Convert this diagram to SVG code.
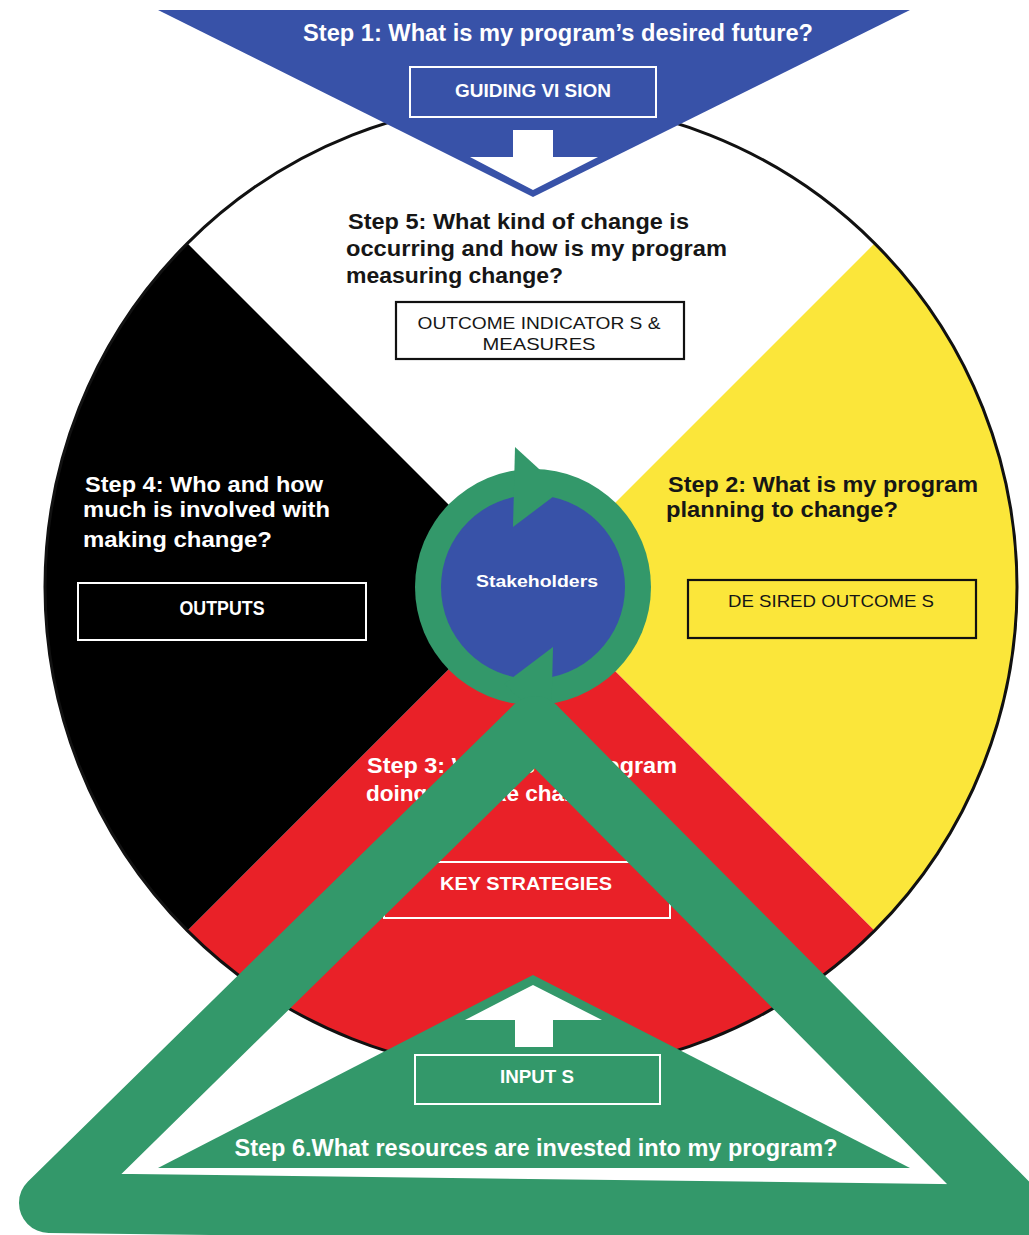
<svg xmlns="http://www.w3.org/2000/svg" width="1029" height="1235" viewBox="0 0 1029 1235">
<style>
.t{font-family:"Liberation Sans",Arial,sans-serif;font-weight:bold;}
.n{font-family:"Liberation Sans Narrow","Liberation Sans",Arial,sans-serif;font-weight:bold;}
.w{fill:#ffffff;}
.k{fill:#161616;}
.lab{font-family:"Liberation Sans",Arial,sans-serif;font-size:17px;fill:#161616;}
.boxw{fill:none;stroke:#ffffff;stroke-width:2;}
.boxk{fill:none;stroke:#111111;stroke-width:2.2;}
</style>
<rect width="1029" height="1235" fill="#ffffff"/>
<g id="wheel">
<path d="M531,587 L187.35,243.35 A486,486 0 0 1 874.65,243.35 Z" fill="#ffffff"/>
<path d="M531,587 L874.65,243.35 A486,486 0 0 1 874.65,930.65 Z" fill="#FBE63A"/>
<path d="M531,587 L874.65,930.65 A486,486 0 0 1 187.35,930.65 Z" fill="#E92128"/>
<path d="M531,587 L187.35,930.65 A486,486 0 0 1 187.35,243.35 Z" fill="#000000"/>
<circle cx="531" cy="587" r="486" fill="none" stroke="#111" stroke-width="3"/>
</g>
<g id="step1">
<polygon points="158,10 910,10 533,197" fill="#3852A8"/>
<polygon points="513,130 553,130 553,157 598,157 533,190 470,157 513,157" fill="#ffffff"/>
<text class="n w" x="558" y="41" font-size="23" text-anchor="middle" textLength="510" lengthAdjust="spacingAndGlyphs">Step 1: What is my program’s desired future?</text>
<rect class="boxw" x="410" y="67" width="246" height="50"/>
<text class="n w" x="533" y="97" font-size="19" text-anchor="middle" textLength="156" lengthAdjust="spacingAndGlyphs">GUIDING VI SION</text>
</g>
<g id="step5">
<text class="t k" font-size="21.5"><tspan x="348" y="229" textLength="341" lengthAdjust="spacingAndGlyphs">Step 5: What kind of change is</tspan><tspan x="346" y="256" textLength="381" lengthAdjust="spacingAndGlyphs">occurring and how is my program</tspan><tspan x="346" y="283" textLength="217" lengthAdjust="spacingAndGlyphs">measuring change?</tspan></text>
<rect class="boxk" x="396" y="302" width="288" height="57"/>
<text class="lab" x="539" y="329" text-anchor="middle" textLength="243" lengthAdjust="spacingAndGlyphs">OUTCOME INDICATOR S &amp;</text>
<text class="lab" x="539" y="350" text-anchor="middle" textLength="113" lengthAdjust="spacingAndGlyphs">MEASURES</text>
</g>
<g id="step4">
<text class="t w" font-size="21.5"><tspan x="85" y="492" textLength="238" lengthAdjust="spacingAndGlyphs">Step 4: Who and how</tspan><tspan x="83" y="517" textLength="247" lengthAdjust="spacingAndGlyphs">much is involved with</tspan><tspan x="83" y="547" textLength="189" lengthAdjust="spacingAndGlyphs">making change?</tspan></text>
<rect class="boxw" x="78" y="583" width="288" height="57"/>
<text class="n w" x="222" y="615" font-size="20" text-anchor="middle" textLength="85" lengthAdjust="spacingAndGlyphs">OUTPUTS</text>
</g>
<g id="step2">
<text class="t k" font-size="21.5"><tspan x="668" y="492" textLength="310" lengthAdjust="spacingAndGlyphs">Step 2: What is my program</tspan><tspan x="666" y="517" textLength="232" lengthAdjust="spacingAndGlyphs">planning to change?</tspan></text>
<rect class="boxk" x="688" y="580" width="288" height="58"/>
<text class="lab" x="831" y="607" text-anchor="middle" textLength="206" lengthAdjust="spacingAndGlyphs">DE SIRED OUTCOME S</text>
</g>
<g id="step3">
<text class="t w" font-size="21.5"><tspan x="367" y="773" textLength="310" lengthAdjust="spacingAndGlyphs">Step 3: What is my program</tspan><tspan x="366" y="801" textLength="252" lengthAdjust="spacingAndGlyphs">doing to make change?</tspan></text>
<rect class="boxw" x="384" y="862" width="286" height="56"/>
<text class="t w" x="526" y="890" font-size="18" text-anchor="middle" textLength="172" lengthAdjust="spacingAndGlyphs">KEY STRATEGIES</text>
</g>
<g id="stakeholders">
<circle cx="533" cy="587" r="118" fill="#33986A"/>
<circle cx="533" cy="587" r="92" fill="#3852A8"/>
<polygon points="515,447 562,490 513,527" fill="#33986A"/>
<polygon points="551,727 504,684 553,647" fill="#33986A"/>
<text class="t w" x="537" y="587" font-size="17" text-anchor="middle" textLength="122" lengthAdjust="spacingAndGlyphs">Stakeholders</text>
</g>
<g id="step6">
<polygon points="158,1168 910,1168 533,975" fill="#33986A"/>
<polygon points="515,1047 553,1047 553,1020 602,1020 533,985 465,1020 515,1020" fill="#ffffff"/>
<rect class="boxw" x="415" y="1055" width="245" height="49"/>
<text class="n w" x="537" y="1083" font-size="18" text-anchor="middle" textLength="74" lengthAdjust="spacingAndGlyphs">INPUT S</text>
<text class="n w" x="536" y="1156" font-size="23" text-anchor="middle" textLength="603" lengthAdjust="spacingAndGlyphs">Step 6.What resources are invested into my program?</text>
</g>
<g id="connectors">
<path d="M535,726 L1020,1215 L49,1203 Z" fill="none" stroke="#33986A" stroke-width="60" stroke-linejoin="round"/>
</g>
</svg>
